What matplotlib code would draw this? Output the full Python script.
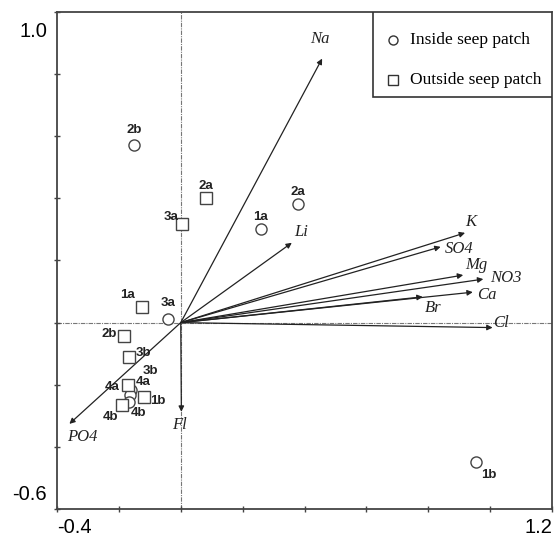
"""PCA biplot of seep patch samples with ion vectors."""
import matplotlib
matplotlib.use("Agg")
import matplotlib.pyplot as plt
from matplotlib.patches import Rectangle

# sample scores
inside_labels = ["2b", "3a", "1a", "2a", "1b", "3b", "4a", "4b"]
inside_x = [-0.152, -0.040, 0.259, 0.378, 0.954, -0.161, -0.164, -0.167]
inside_y = [0.572, 0.011, 0.300, 0.381, -0.450, -0.217, -0.233, -0.256]

outside_labels = ["2a", "3a", "1a", "2b", "3b", "4a", "1b", "4b"]
outside_x = [0.081, 0.003, -0.126, -0.182, -0.167, -0.170, -0.119, -0.191]
outside_y = [0.400, 0.318, 0.049, -0.043, -0.112, -0.201, -0.239, -0.265]

# variable loadings
var_names = ["Na", "Li", "K", "SO4", "Mg", "NO3", "Ca", "Br", "Cl", "Fl", "PO4"]
var_x = [0.457, 0.359, 0.919, 0.840, 0.913, 0.978, 0.944, 0.782, 1.008, 0.002, -0.360]
var_y = [0.850, 0.257, 0.289, 0.244, 0.153, 0.140, 0.098, 0.083, -0.016, -0.287, -0.326]

# label offsets (pixels)
inside_off = [(0, 15), (0, 16), (0, 12), (0, 12), (13, -13), (19, 19), (13, 13), (9, -11)]
outside_off = [(0, 12), (-11, 7), (-14, 12), (-15, 2), (14, 4), (-16, -2), (14, -4), (-11, -12)]
var_off = [(-2, 20), (9, 11), (6, 11), (19, -2), (13, 10), (23, 1), (14, -3),
           (10, -11), (8, 5), (-2, -13), (13, -13)]

fig = plt.figure(figsize=(5.54, 5.36), dpi=100)
ax = fig.add_axes([0.1029, 0.0504, 0.8935, 0.9272])
ax.set_xlim(-0.4, 1.2)
ax.set_ylim(-0.6, 1.0)

for s in ax.spines.values():
    s.set_linewidth(1.3)
    s.set_color("#444444")

ax.set_xticks([-0.4 + 0.2 * i for i in range(9)])
ax.set_yticks([-0.6 + 0.2 * i for i in range(9)])
ax.tick_params(direction="inout", length=5, width=1, color="#444444",
               labelbottom=False, labelleft=False)

# zero lines
dash = (0, (4, 1, 1, 1))
ax.axvline(0, color="#777777", lw=0.8, ls=dash, zorder=1)
ax.axhline(0, color="#777777", lw=0.8, ls=dash, zorder=1)

# corner tick labels
tfont = dict(family="Liberation Sans", fontsize=14.5)
ax.text(-0.02, 0.960, "1.0", transform=ax.transAxes, ha="right", va="center", **tfont)
ax.text(-0.02, 0.030, "-0.6", transform=ax.transAxes, ha="right", va="center", **tfont)
ax.text(0.0, -0.038, "-0.4", transform=ax.transAxes, ha="left", va="center", **tfont)
ax.text(1.0, -0.038, "1.2", transform=ax.transAxes, ha="right", va="center", **tfont)

# vectors
for name, x, y, off in zip(var_names, var_x, var_y, var_off):
    ax.annotate("", xy=(x, y), xytext=(0, 0),
                arrowprops=dict(arrowstyle="-|>", lw=0.9, color="#222222",
                                mutation_scale=8, shrinkA=0, shrinkB=0))
    ax.annotate(name, xy=(x, y), xytext=off, textcoords="offset pixels",
                ha="center", va="center", family="Liberation Serif",
                style="italic", fontsize=12, color="#222222")

# samples
mk = dict(ls="none", markersize=8, markerfacecolor="white",
          markeredgecolor="#444444", markeredgewidth=1.0, zorder=3)
ax.plot(inside_x, inside_y, marker="o", **mk)
ax.plot(outside_x, outside_y, marker="s", **mk)

lfont = dict(family="Liberation Sans", fontsize=9.5, weight="bold", color="#222222",
             ha="center", va="center", zorder=4)
for lab, x, y, off in zip(inside_labels, inside_x, inside_y, inside_off):
    ax.annotate(lab, xy=(x, y), xytext=off, textcoords="offset pixels", **lfont)
for lab, x, y, off in zip(outside_labels, outside_x, outside_y, outside_off):
    ax.annotate(lab, xy=(x, y), xytext=off, textcoords="offset pixels", **lfont)

# legend box
ax.add_patch(Rectangle((0.638, 0.829), 0.362, 0.171, transform=ax.transAxes,
                       facecolor="white", edgecolor="#333333", lw=1.2, zorder=5))
lmk = dict(ls="none", markersize=6.5, markerfacecolor="white", markeredgecolor="#333333",
           markeredgewidth=1.0, transform=ax.transAxes, zorder=6, clip_on=False)
ax.plot([0.679], [0.944], marker="o", **lmk)
ax.plot([0.679], [0.863], marker="s", **lmk)
ax.text(0.713, 0.944, "Inside seep patch", transform=ax.transAxes, va="center",
        family="Liberation Serif", fontsize=12.5, zorder=6)
ax.text(0.713, 0.863, "Outside seep patch", transform=ax.transAxes, va="center",
        family="Liberation Serif", fontsize=12.5, zorder=6)

fig.savefig("out.png", dpi=100)
